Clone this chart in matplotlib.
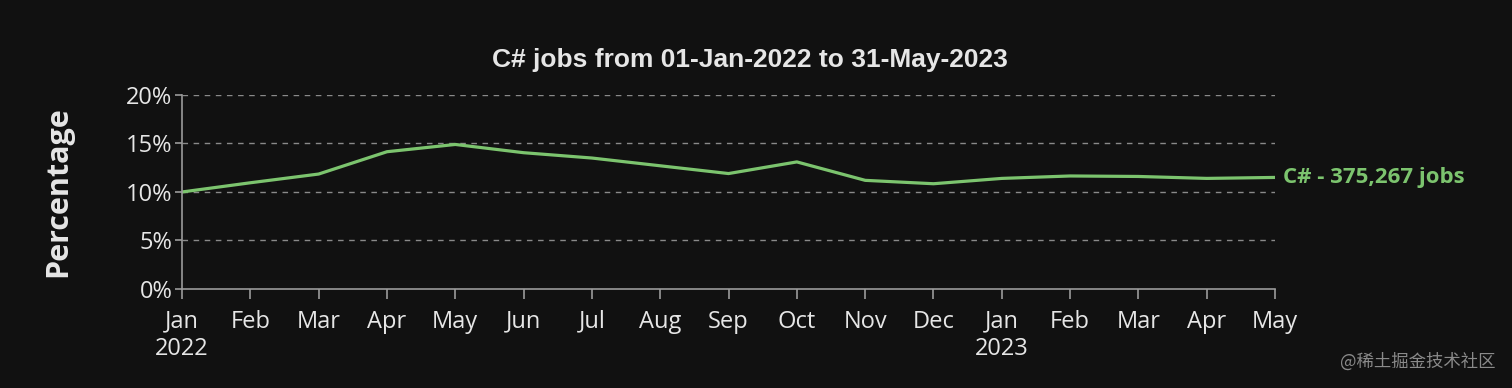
import matplotlib.pyplot as plt

# Data
months = ['Jan', 'Feb', 'Mar', 'Apr', 'May', 'Jun', 'Jul', 'Aug', 'Sep', 'Oct', 'Nov', 'Dec',
          'Jan', 'Feb', 'Mar', 'Apr', 'May']
tick_labels = ['Jan\n2022', 'Feb', 'Mar', 'Apr', 'May', 'Jun', 'Jul', 'Aug', 'Sep', 'Oct', 'Nov', 'Dec',
               'Jan\n2023', 'Feb', 'Mar', 'Apr', 'May']
csharp_pct = [10.0, 10.95, 11.85, 14.15, 14.9, 14.05, 13.5, 12.7, 11.9, 13.1,
              11.2, 10.85, 11.4, 11.65, 11.6, 11.4, 11.5]
end_label = 'C# - 375,267 jobs'

bg = '#111111'
green = '#7cc46e'
grey = '#9a9a9a'
txt = '#e6e6e6'

plt.rcParams['font.family'] = ['Open Sans', 'DejaVu Sans']

fig = plt.figure(figsize=(15.12, 3.88), dpi=100, facecolor=bg)
ax = fig.add_axes([0.1204, 0.2552, 0.7229, 0.5])
ax.set_facecolor(bg)

x = list(range(len(months)))
ax.plot(x, csharp_pct, color=green, linewidth=2.3)

ax.set_xlim(0, len(months) - 1)
ax.set_ylim(0, 20)
ax.set_yticks([0, 5, 10, 15, 20])
ax.set_yticklabels(['0%', '5%', '10%', '15%', '20%'])
ax.set_xticks(x)
ax.set_xticklabels(tick_labels, linespacing=1.15)

for yv in [5, 10, 15, 20]:
    ax.axhline(yv, color='#8a8a8a', linestyle=(0, (4, 4)), linewidth=1, zorder=0)

for s in ['top', 'right']:
    ax.spines[s].set_visible(False)
for s in ['left', 'bottom']:
    ax.spines[s].set_color(grey)
    ax.spines[s].set_linewidth(1.2)

ax.tick_params(axis='x', colors=grey, labelcolor=txt, labelsize=17, length=7, width=1.2, pad=8)
ax.tick_params(axis='y', colors=grey, labelcolor=txt, labelsize=17, length=5, width=1.2, pad=2)

ax.set_ylabel('Percentage', color=txt, fontsize=22, fontweight='bold', labelpad=38)
fig.text(0.496, 0.845, 'C# jobs from 01-Jan-2022 to 31-May-2023', color=txt, fontsize=19,
         fontweight='bold', ha='center', va='center', family=['Liberation Sans', 'DejaVu Sans'])

ax.annotate(end_label, xy=(x[-1], csharp_pct[-1]), xytext=(6, 0), textcoords='offset points',
            color=green, fontsize=16, fontweight='bold', va='center', ha='left',
            annotation_clip=False)

fig.text(0.989, 0.067, '@稀土掘金技术社区', color='#8a8a8a', fontsize=12.5, ha='right', va='center',
         family=['Noto Sans CJK SC', 'DejaVu Sans'])

plt.savefig('out.png', dpi=100, facecolor=bg)
